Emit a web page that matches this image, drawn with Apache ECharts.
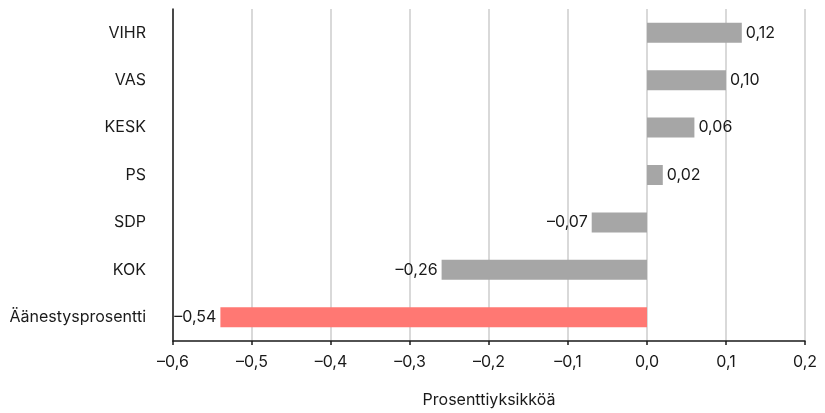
<!DOCTYPE html>
<html><head><meta charset="utf-8">
<script src="https://cdn.jsdelivr.net/npm/echarts@6/dist/echarts.min.js"></script>
<style>html,body{margin:0;padding:0;background:#fff}#c{width:825px;height:413px}</style>
</head><body><div id="c"></div>
<script>
var categories = ['VIHR', 'VAS', 'KESK', 'PS', 'SDP', 'KOK', 'Äänestysprosentti'];
var values = [0.12, 0.10, 0.06, 0.02, -0.07, -0.26, -0.54];
var barColors = ['#a6a6a6', '#a6a6a6', '#a6a6a6', '#a6a6a6', '#a6a6a6', '#a6a6a6', '#ff7873'];
var xTicks = [-0.6, -0.5, -0.4, -0.3, -0.2, -0.1, 0.0, 0.1, 0.2];
var xName = 'Prosenttiyksikköä';

var FONT = 'Inter';
function fmt(v, d) { return v.toFixed(d).replace('.', ',').replace('-', '–'); }

var chart = echarts.init(document.getElementById('c'), null, { renderer: 'canvas' });
chart.setOption({
  animation: false,
  textStyle: { fontFamily: FONT },
  grid: { left: 173, right: 20, top: 9, bottom: 71, containLabel: false },
  xAxis: {
    type: 'value', min: -0.6, max: 0.2, interval: 0.1,
    name: xName, nameLocation: 'middle', nameGap: 51,
    nameTextStyle: { fontFamily: FONT, fontSize: 16, color: '#1a1a1a' },
    axisLine: { show: true, onZero: false, lineStyle: { color: '#1a1a1a', width: 1.5 } },
    axisTick: { show: true, length: 4, lineStyle: { color: '#1a1a1a', width: 1.5 } },
    axisLabel: { fontFamily: FONT, fontSize: 16, color: '#1a1a1a', margin: 13,
      formatter: function (v) { return fmt(Math.round(v * 10) / 10, 1); } },
    splitLine: { show: true, lineStyle: { color: '#cccccc', width: 1.5 } }
  },
  yAxis: {
    type: 'category', data: categories, inverse: true,
    axisLine: { show: true, onZero: false, lineStyle: { color: '#1a1a1a', width: 1.5 } },
    axisTick: { show: false },
    axisLabel: { fontFamily: FONT, fontSize: 16, color: '#1a1a1a', margin: 27 },
    splitLine: { show: false }
  },
  series: [{
    type: 'bar', barWidth: 20,
    data: values.map(function (v, i) {
      return {
        value: v,
        itemStyle: { color: barColors[i] },
        label: { position: v < 0 ? 'left' : 'right' }
      };
    }),
    label: {
      show: true, distance: 4, fontFamily: FONT, fontSize: 16, color: '#1a1a1a',
      formatter: function (p) { return fmt(p.value, 2); }
    }
  }]
});
</script></body></html>
